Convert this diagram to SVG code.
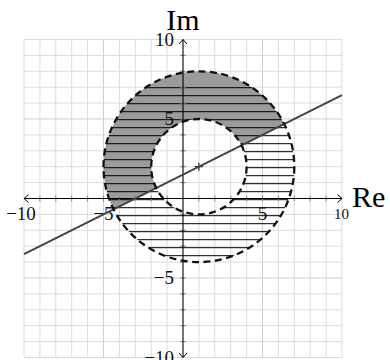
<svg xmlns="http://www.w3.org/2000/svg" width="390" height="360" viewBox="0 0 390 360">
<style>
.grid{fill:none;stroke:#dcdcdc;stroke-width:1}
.grid5{fill:none;stroke:#cfcfcf;stroke-width:1}
.axis{fill:none;stroke:#000;stroke-width:1.1}
.tick{fill:none;stroke:#888;stroke-width:1}
.lbl{font-family:"Liberation Serif","DejaVu Serif",serif;font-size:19px;fill:#111}
.big{font-family:"Liberation Serif","DejaVu Serif",serif;font-size:30px;fill:#000}
.hatch{fill:none;stroke:#000;stroke-width:1}
.circ{fill:none;stroke:#111;stroke-width:2.3;stroke-dasharray:7 4.5}
</style>
<defs>
<marker id="ah" viewBox="-6 -6 8 12" markerWidth="8" markerHeight="12" refX="0" refY="0" orient="auto-start-reverse" markerUnits="userSpaceOnUse">
<path d="M-4.5,-4 L0,0 L-4.5,4" fill="none" stroke="#000" stroke-width="1"/>
</marker>
<clipPath id="ann">
<path clip-rule="evenodd" d="M294.3,166.7 A95.4,95.4 0 1 0 103.5,166.7 A95.4,95.4 0 1 0 294.3,166.7 Z M246.6,166.7 A47.7,47.7 0 1 0 151.2,166.7 A47.7,47.7 0 1 0 246.6,166.7 Z"/>
</clipPath>
<clipPath id="above">
<path d="M0,266.15 L390,71.15 L390,0 L0,0 Z"/>
</clipPath>
</defs>
<g id="grid">
<path class="grid" d="M24,39.5V357.5M39.9,39.5V357.5M55.8,39.5V357.5M71.7,39.5V357.5M87.6,39.5V357.5M119.4,39.5V357.5M135.3,39.5V357.5M151.2,39.5V357.5M167.1,39.5V357.5M198.9,39.5V357.5M214.8,39.5V357.5M230.7,39.5V357.5M246.6,39.5V357.5M278.4,39.5V357.5M294.3,39.5V357.5M310.2,39.5V357.5M326.1,39.5V357.5M342,39.5V357.5
M24,39.5H342M24,55.4H342M24,71.3H342M24,87.2H342M24,103.1H342M24,134.9H342M24,150.8H342M24,166.7H342M24,182.6H342M24,214.4H342M24,230.3H342M24,246.2H342M24,262.1H342M24,293.9H342M24,309.8H342M24,325.7H342M24,341.6H342M24,357.5H342"/>
<path class="grid5" d="M103.5,39.5V357.5M262.5,39.5V357.5M24,119H342M24,278H342"/>
</g>
<g id="region">
<path clip-path="url(#above)" fill="#9b9b9b" fill-rule="evenodd" d="M294.3,166.7 A95.4,95.4 0 1 0 103.5,166.7 A95.4,95.4 0 1 0 294.3,166.7 Z M246.6,166.7 A47.7,47.7 0 1 0 151.2,166.7 A47.7,47.7 0 1 0 246.6,166.7 Z"/>
<g clip-path="url(#ann)">
<path class="hatch" d="M100,87.7H300M100,95.7H300M100,103.7H300M100,111.7H300M100,119.7H300M100,127.7H300M100,135.7H300M100,143.7H300M100,151.7H300M100,159.7H300M100,167.7H300M100,175.7H300M100,183.7H300M100,191.7H300M100,199.7H300M100,207.7H300M100,215.7H300M100,223.7H300M100,231.7H300M100,239.7H300M100,247.7H300M100,255.7H300"/>
</g>
</g>
<g id="axes">
<path class="tick" d="M39.9,195.5V201.5M55.8,195.5V201.5M71.7,195.5V201.5M87.6,195.5V201.5M103.5,195.5V201.5M119.4,195.5V201.5M135.3,195.5V201.5M151.2,195.5V201.5M167.1,195.5V201.5M198.9,195.5V201.5M214.8,195.5V201.5M230.7,195.5V201.5M246.6,195.5V201.5M262.5,195.5V201.5M278.4,195.5V201.5M294.3,195.5V201.5M310.2,195.5V201.5M326.1,195.5V201.5
M180,55.4H186M180,71.3H186M180,87.2H186M180,103.1H186M180,119H186M180,134.9H186M180,150.8H186M180,166.7H186M180,182.6H186M180,214.4H186M180,230.3H186M180,246.2H186M180,262.1H186M180,278H186M180,293.9H186M180,309.8H186M180,325.7H186M180,341.6H186"/>
<line class="axis" x1="24" y1="198.5" x2="342" y2="198.5" marker-start="url(#ah)" marker-end="url(#ah)"/>
<line class="axis" x1="183" y1="357.5" x2="183" y2="39.5" marker-start="url(#ah)" marker-end="url(#ah)"/>
<path d="M194.9,166.7H202.9M198.9,162.7V170.7" stroke="#000" stroke-width="1"/>
<text class="lbl" x="21" y="220" text-anchor="middle">−10</text>
<text class="lbl" x="103.5" y="220" text-anchor="middle">−5</text>
<text class="lbl" x="262.5" y="220" text-anchor="middle">5</text>
<text class="lbl" x="341.5" y="219" text-anchor="middle" style="font-size:15px">10</text>
<text class="lbl" x="174" y="46" text-anchor="end">10</text>
<text class="lbl" x="174" y="125" text-anchor="end">5</text>
<text class="lbl" x="174" y="284" text-anchor="end">−5</text>
<text class="lbl" x="174" y="364" text-anchor="end">−10</text>
<text class="big" x="183" y="30" text-anchor="middle">Im</text>
<text class="big" x="352" y="207">Re</text>
</g>
<g id="connectors">
<line x1="24" y1="254.15" x2="342" y2="95.15" stroke="#444" stroke-width="2"/>
<circle class="circ" cx="198.9" cy="166.7" r="95.4"/>
<circle class="circ" cx="198.9" cy="166.7" r="47.7"/>
</g>
</svg>
